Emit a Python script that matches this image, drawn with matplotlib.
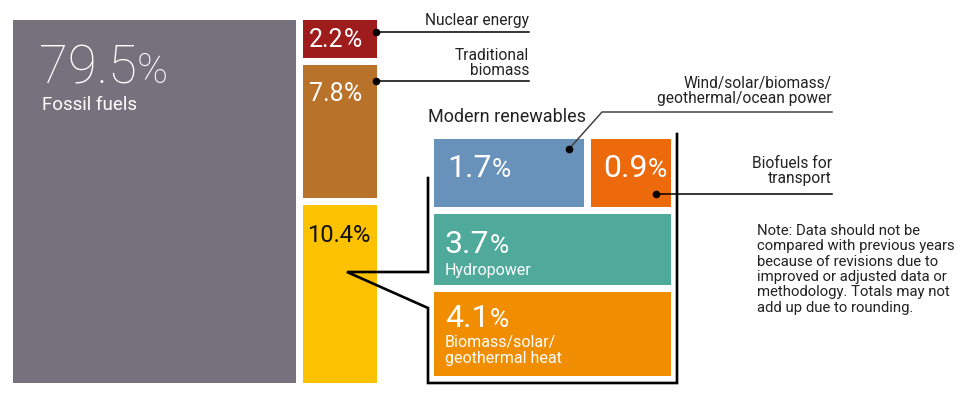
import matplotlib.pyplot as plt
from matplotlib.patches import Rectangle

# shares of total final energy consumption (%)
main_labels = ["Fossil fuels", "Nuclear energy", "Traditional\nbiomass", "Modern renewables"]
main_values = [79.5, 2.2, 7.8, 10.4]
main_colors = ["#75727d", "#9e1c1c", "#b8722a", "#fcc200"]

modern_labels = ["Wind/solar/biomass/\ngeothermal/ocean power", "Biofuels for\ntransport",
                 "Hydropower", "Biomass/solar/\ngeothermal heat"]
modern_values = [1.7, 0.9, 3.7, 4.1]
modern_colors = ["#6892b9", "#ec6a0c", "#50aa9c", "#f18d00"]

note = ("Note: Data should not be\ncompared with previous years\nbecause of revisions due to\n"
        "improved or adjusted data or\nmethodology. Totals may not\nadd up due to rounding.")

FONT = "Roboto"
plt.rcParams['font.family'] = [FONT, 'DejaVu Sans']

fig = plt.figure(figsize=(9.68, 3.96), dpi=100)
ax = fig.add_axes([0, 0, 1, 1])
ax.set_xlim(0, 968)
ax.set_ylim(396, 0)
ax.axis("off")


def pct(x, y, val, size, color="white", psize=None, weight="normal"):
    t = ax.text(x, y, f"{val:.1f}", fontsize=size, color=color, fontweight=weight,
                va="baseline", ha="left")
    ps = psize or size
    ax.annotate("%", xy=(1, 0), xycoords=t, xytext=(0, (size - ps) * 0.21),
                textcoords="offset points", fontsize=ps, color=color,
                fontweight=weight, va="bottom", ha="left")


# fossil column
top, bot = 20, 383
ax.add_patch(Rectangle((13, top), 283, bot - top, color=main_colors[0], lw=0))
pct(39, 83, main_values[0], 38, psize=30, weight="light")
ax.text(42, 110, main_labels[0], fontsize=13.5, color="white")

# right column, heights from the values
gap = 7
rest = main_values[1:]
avail = (bot - top) - gap * (len(rest) - 1)
y = top
col_rects = []
for v, c in zip(rest, main_colors[1:]):
    h = avail * v / sum(rest)
    ax.add_patch(Rectangle((303, y), 74, h, color=c, lw=0))
    col_rects.append((y, h))
    y += h + gap

pct(309, col_rects[0][0] + 27, rest[0], 18)
pct(309, col_rects[1][0] + 36, rest[1], 18)
pct(307, col_rects[2][0] + 37, rest[2], 17, color="#111111")

# modern renewables block
bx0, bx1 = 434, 671
row_h = [68, 71, 84]
ry = [139, 214, 292]
top_sum = modern_values[0] + modern_values[1]
w0 = (bx1 - bx0 - gap) * modern_values[0] / top_sum
ax.add_patch(Rectangle((bx0, ry[0]), w0, row_h[0], color=modern_colors[0], lw=0))
ax.add_patch(Rectangle((bx0 + w0 + gap, ry[0]), bx1 - bx0 - w0 - gap, row_h[0],
                       color=modern_colors[1], lw=0))
ax.add_patch(Rectangle((bx0, ry[1]), bx1 - bx0, row_h[1], color=modern_colors[2], lw=0))
ax.add_patch(Rectangle((bx0, ry[2]), bx1 - bx0, row_h[2], color=modern_colors[3], lw=0))

pct(447, 177, modern_values[0], 23, psize=19)
pct(603, 177, modern_values[1], 23, psize=19)
pct(445, 253, modern_values[2], 23, psize=19)
ax.text(445, 275, modern_labels[2], fontsize=11.5, color="white")
pct(445, 327, modern_values[3], 23, psize=19)
ax.text(445, 363, modern_labels[3], fontsize=11.5, color="white", linespacing=1.1)

ax.text(428, 117, main_labels[3], fontsize=13, color="#222222",
        va="center", ha="left")

# bracket around the modern renewables
bx = [428, 428, 347, 428, 428, 677, 677]
by = [178, 272, 272, 308, 383, 383, 134]
ax.plot(bx, by, color="black", lw=1.9, solid_joinstyle="miter")

# callouts
lw_c = 1.1
fs_c = 11.2
ax.plot([376, 529], [32, 32], color="black", lw=lw_c)
ax.plot([376], [32], "o", color="black", ms=4.5)
ax.text(529, 25, main_labels[1], fontsize=fs_c, color="#222222", ha="right", va="baseline")

ax.plot([376, 529], [81, 81], color="black", lw=lw_c)
ax.plot([376], [81], "o", color="black", ms=4.5)
ax.text(529, 75, main_labels[2], fontsize=fs_c, color="#222222", ha="right", va="baseline",
        linespacing=1.0)

ax.plot([569, 602, 832], [149, 112, 112], color="#444444", lw=lw_c)
ax.plot([569], [149], "o", color="black", ms=4.5)
ax.text(832, 103, modern_labels[0], fontsize=fs_c, color="#222222", ha="right", va="baseline",
        linespacing=1.0)

ax.plot([656, 832], [194, 194], color="black", lw=lw_c)
ax.plot([656], [194], "o", color="black", ms=4.5)
ax.text(832, 183, modern_labels[1], fontsize=fs_c, color="#222222", ha="right", va="baseline",
        linespacing=1.0)

ax.text(757, 224, note, fontsize=10.7, color="#222222", ha="left", va="top", linespacing=1.12)

fig.savefig("out.png", dpi=100)
